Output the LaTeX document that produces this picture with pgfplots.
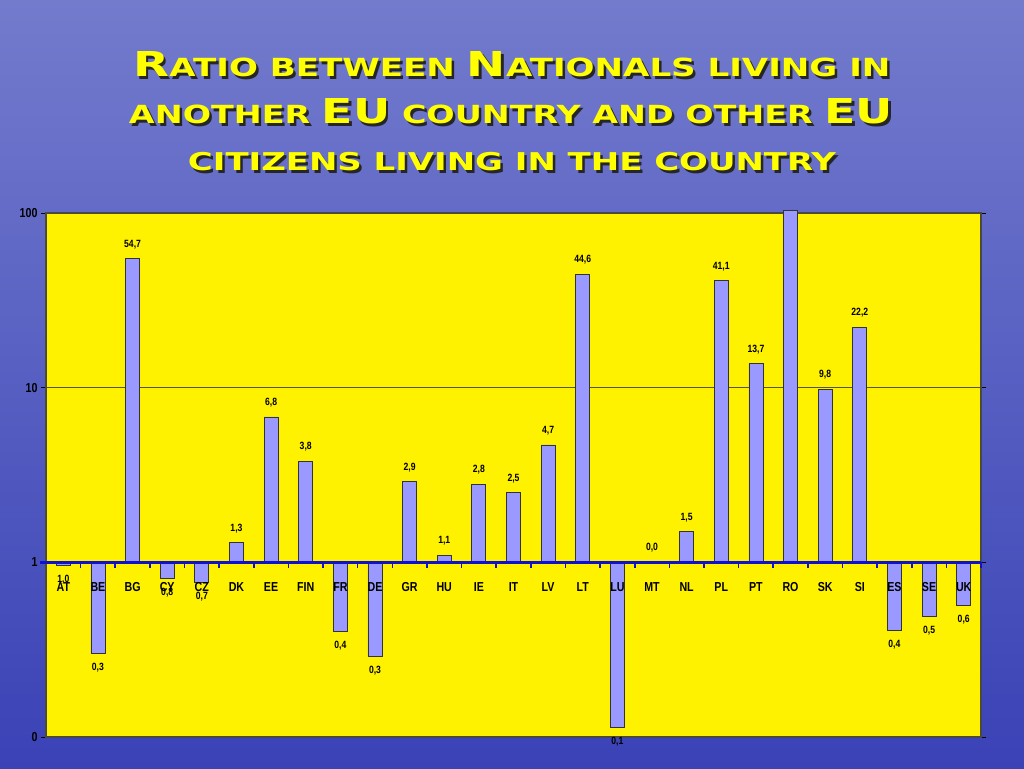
\documentclass[border=0pt]{standalone}
\usepackage{graphicx}
\usepackage{pgfplots}
\pgfplotsset{compat=1.18}
\usepackage{pgfplotstable}
\usepackage{fontspec}
\setmainfont{Liberation Sans}
\newfontfamily\narrow[FakeStretch=0.82]{Liberation Sans}
\newfontfamily\titlefont{DejaVu Sans}

\definecolor{barfill}{HTML}{9999FF}
\definecolor{barline}{HTML}{333333}
\definecolor{titleyellow}{HTML}{FFFF00}
\definecolor{axisblue}{HTML}{1010D0}
\definecolor{framecol}{HTML}{4A4A40}
\definecolor{gridcol}{HTML}{55552E}
\definecolor{skytop}{HTML}{737BCD}
\definecolor{skymid}{HTML}{5A62C4}
\definecolor{seabot}{HTML}{3A42B6}

% bars going up from 1
\pgfplotstableread{
x y label
2 54.7 54,7
5 1.3 1,3
6 6.8 6,8
7 3.8 3,8
10 2.9 2,9
11 1.1 1,1
12 2.8 2,8
13 2.5 2,5
14 4.7 4,7
15 44.6 44,6
17 1.0 0,0
18 1.5 1,5
19 41.1 41,1
20 13.7 13,7
22 9.8 9,8
23 22.2 22,2
}\upbars

% bars going down from 1
\pgfplotstableread{
x y label
0 0.96 1,0
1 0.30 0,3
3 0.81 0,8
4 0.77 0,7
8 0.40 0,4
9 0.29 0,3
16 0.114 0,1
24 0.41 0,4
25 0.49 0,5
26 0.57 0,6
}\downbars

\newcommand{\bg}[1]{{\fontsize{28}{28}\selectfont #1}}
\newcommand{\sm}[1]{{\fontsize{20.4}{20.4}\selectfont #1}}
\newcommand{\lineA}{\resizebox{757pt}{25pt}{\titlefont\bfseries\bg{R}\sm{ATIO BETWEEN }\bg{N}\sm{ATIONALS LIVING IN}}}
\newcommand{\lineB}{\resizebox{764pt}{25pt}{\titlefont\bfseries\sm{ANOTHER }\bg{EU}\sm{ COUNTRY AND OTHER }\bg{EU}}}
\newcommand{\lineC}{\resizebox{648pt}{18.2pt}{\titlefont\bfseries\sm{CITIZENS LIVING IN THE COUNTRY}}}

\begin{document}
\begin{tikzpicture}[x=1pt,y=1pt]
\shade[top color=skytop, middle color=skymid, bottom color=seabot] (0,0) rectangle (1024,768);

\node[anchor=base, text=black!85] at (514.5,688.5) {\lineA};
\node[anchor=base, text=titleyellow] at (512,691) {\lineA};
\node[anchor=base, text=black!85] at (513.5,641.5) {\lineB};
\node[anchor=base, text=titleyellow] at (511,644) {\lineB};
\node[anchor=base, text=black!85] at (514.5,594.5) {\lineC};
\node[anchor=base, text=titleyellow] at (512,597) {\lineC};

\begin{axis}[
  at={(46pt,31pt)}, anchor=south west,
  scale only axis, width=935pt, height=524pt,
  ymode=log, ymin=0.1, ymax=100,
  xmin=-0.5, xmax=26.5,
  tick align=outside, major tick length=5pt,
  clip=false,
  ticklabel style={font=\narrow\bfseries\fontsize{13}{13}\selectfont, text=black},
  ytick={0.1,1,10,100}, yticklabels={0,1,10,100},
  yminorticks=false,
  xtick=\empty,
  ytick style={draw=black, line width=0.8pt},
  ymajorgrids, grid style={draw=gridcol, line width=0.9pt},
  axis background/.style={fill=yellow},
  axis line style={draw=framecol, line width=1.2pt},
  point meta=explicit symbolic,
]
\addplot[ybar, bar width=14pt, bar shift=0pt, fill=barfill, draw=barline, line width=0.8pt,
  nodes near coords,
  nodes near coords style={anchor=south, yshift=6pt, font=\narrow\bfseries\fontsize{10.5}{10.5}\selectfont, text=black}]
  table[x=x, y=y, meta=label] {\upbars};
\addplot[ybar, bar width=14pt, bar shift=0pt, fill=barfill, draw=barline, line width=0.8pt,
  nodes near coords,
  nodes near coords style={anchor=north, yshift=-6pt, font=\narrow\bfseries\fontsize{10.5}{10.5}\selectfont, text=black}]
  table[x=x, y=y, meta=label] {\downbars};
% RO goes off the top, no label
\addplot[ybar, bar width=14pt, bar shift=0pt, fill=barfill, draw=barline, line width=0.8pt, point meta=none]
  coordinates {(21,104)};
% the x axis line at 1
\addplot[sharp plot, draw=axisblue, line width=2.6pt, point meta=none] coordinates {(-0.68,1) (26.5,1)};
\addplot[only marks, mark=|, mark size=3pt, color=axisblue, point meta=none,
  mark options={line width=1.6pt, yshift=-3pt}]
  coordinates {(0.5,1) (1.5,1) (2.5,1) (3.5,1) (4.5,1) (5.5,1) (6.5,1) (7.5,1) (8.5,1) (9.5,1)
    (10.5,1) (11.5,1) (12.5,1) (13.5,1) (14.5,1) (15.5,1) (16.5,1) (17.5,1) (18.5,1) (19.5,1)
    (20.5,1) (21.5,1) (22.5,1) (23.5,1) (24.5,1) (25.5,1) (26.5,1)};
\end{axis}

% second axis on top: the country names sit over the bars
\begin{axis}[
  at={(46pt,31pt)}, anchor=south west,
  scale only axis, width=935pt, height=524pt,
  ymode=log, ymin=0.1, ymax=100,
  xmin=-0.5, xmax=26.5,
  tick align=outside, major tick length=5pt,
  clip=false,
  ticklabel style={font=\narrow\bfseries\fontsize{13}{13}\selectfont, text=black},
  ytick=\empty,
  xtick={0,...,26},
  xticklabels={AT,BE,BG,CY,CZ,DK,EE,FIN,FR,DE,GR,HU,IE,IT,LV,LT,LU,MT,NL,PL,PT,RO,SK,SI,ES,SE,UK},
  xtick style={draw=none},
  axis line style={draw=none},
  xticklabel style={anchor=north, yshift=163pt},
]
\addplot[draw=none, mark=none] coordinates {(0,1) (26,1)};
\end{axis}
\end{tikzpicture}
\end{document}
